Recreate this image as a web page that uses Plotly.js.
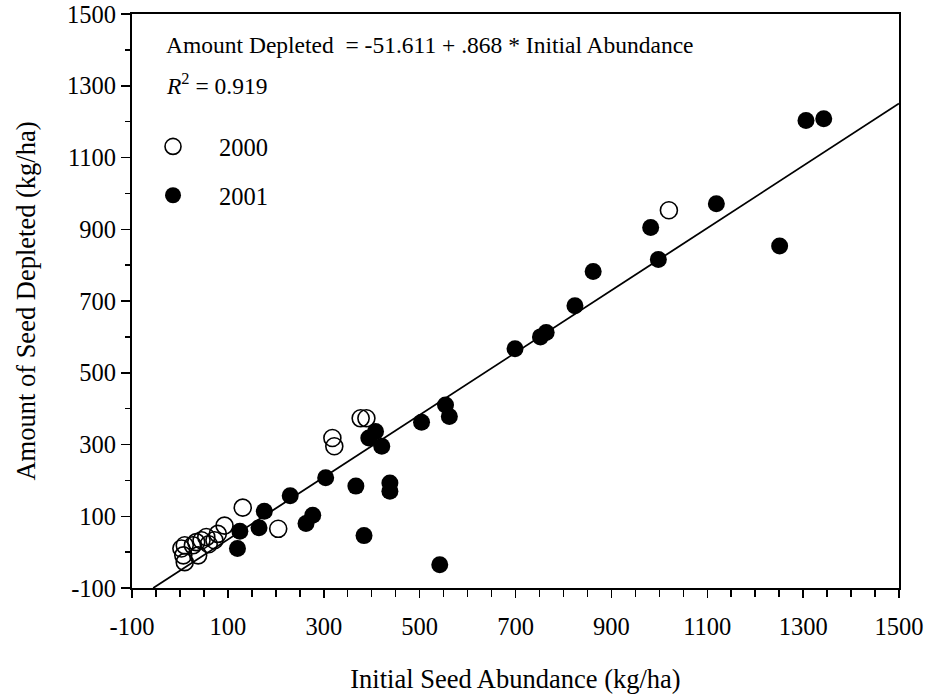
<!DOCTYPE html>
<html>
<head>
<meta charset="utf-8">
<script src="https://cdn.plot.ly/plotly-3.0.1.min.js"></script>
<style>html,body{margin:0;padding:0;background:#fff;}#chart{width:934px;height:700px;}</style>
</head>
<body>
<div id="chart"></div>
<script>
// 2000 (open circles)
const x2000 = [1020, 377, 389, 318, 322, 205, 131, 93, 79, 72, 55, 45, 34, 27, 10, 3, 7, 10, 38, 60];
const y2000 = [953, 373, 373, 318, 295, 65, 124, 74, 51, 33, 42, 33, 28, 19, 19, 10, -9, -28, -9, 22];
// 2001 (filled circles)
const x2001 = [1306, 1343, 1251, 1119, 982, 998, 862, 824, 752, 764, 699, 554, 562, 504, 408, 394, 421, 304, 367, 438, 438, 230, 277, 263, 384, 542, 176, 125, 165, 120];
const y2001 = [1203, 1208, 853, 971, 905, 816, 782, 687, 600, 612, 567, 410, 378, 362, 336, 318, 295, 207, 184, 193, 170, 157, 103, 80, 46, -35, 114, 58, 68, 10];
// regression
const intercept = -51.611;
const slope = 0.868;
const xRange = [-100, 1500];
const yRange = [-100, 1500];
const xTicks = [-100, 100, 300, 500, 700, 900, 1100, 1300, 1500];
const yTicks = [-100, 100, 300, 500, 700, 900, 1100, 1300, 1500];
const xTickText = ['-100', '100', '300', '500', '700', '900', '1100', '1300', '1500'];
const yTickText = ['-100', '100', '300', '500', '700', '900', '1100', '1300', '1500'];

const fitX0 = (yRange[0] - intercept) / slope;
const fitX = [fitX0, xRange[1]];
const fitY = fitX.map(v => intercept + slope * v);

const FONT = '"Liberation Serif", "Times New Roman", serif';

const traces = [
  {x: fitX, y: fitY, mode: 'lines', line: {color: '#000', width: 1.8}, showlegend: false, hoverinfo: 'skip'},
  {x: x2000, y: y2000, mode: 'markers', name: '2000', legendgroup: 'a',
   marker: {symbol: 'circle-open', size: 17, color: '#000', line: {width: 1.6, color: '#000'}}},
  {x: x2001, y: y2001, mode: 'markers', name: '2001', legendgroup: 'b',
   marker: {symbol: 'circle', size: 17, color: '#000'}}
];

const axisCommon = {
  showgrid: false, zeroline: false, showline: true, linecolor: '#000', linewidth: 2,
  mirror: true, ticks: 'outside', tickcolor: '#000', tickwidth: 1.5, ticklabeloverflow: 'allow',
  tickfont: {family: FONT, size: 24.5, color: '#000'}
};

const layout = {
  width: 934, height: 700,
  margin: {l: 132, r: 35, t: 14, b: 112},
  paper_bgcolor: '#fff', plot_bgcolor: '#fff',
  font: {family: FONT, color: '#000'},
  xaxis: Object.assign({}, axisCommon, {
    range: xRange, tickvals: xTicks, ticktext: xTickText, ticklen: 8, ticklabelstandoff: 8,
    minor: {dtick: 50, tick0: -100, ticks: 'outside', ticklen: 7, tickcolor: '#000', tickwidth: 1.5},
    title: {text: 'Initial Seed Abundance (kg/ha)', font: {family: FONT, size: 26.5, color: '#000'}, standoff: 30}
  }),
  yaxis: Object.assign({}, axisCommon, {
    range: yRange, tickvals: yTicks, ticktext: yTickText, ticklen: 9,
    minor: {dtick: 100, tick0: -100, ticks: 'outside', ticklen: 5, tickcolor: '#000', tickwidth: 1.5},
    title: {text: 'Amount of Seed Depleted (kg/ha)', font: {family: FONT, size: 26.5, color: '#000'}, standoff: 24}
  }),
  showlegend: true,
  legend: {x: -0.0065, y: 0.8084, xanchor: 'left', yanchor: 'top', bgcolor: 'rgba(0,0,0,0)',
    font: {family: FONT, size: 24.5, color: '#000'}, traceorder: 'grouped', tracegroupgap: 14, itemwidth: 82},
  annotations: [
    {xref: 'paper', yref: 'paper', x: 0.0415, y: 0.946, xanchor: 'left', yanchor: 'middle', showarrow: false,
     text: 'Amount Depleted  = -51.611 + .868 * Initial Abundance', font: {family: FONT, size: 23.5, color: '#000'}},
    {xref: 'paper', yref: 'paper', x: 0.0415, y: 0.878, xanchor: 'left', yanchor: 'middle', showarrow: false,
     text: '<i>R</i><sup>2</sup> = 0.919', font: {family: FONT, size: 23.5, color: '#000'}}
  ]
};

Plotly.newPlot('chart', traces, layout, {displayModeBar: false, staticPlot: true});
</script>
</body>
</html>
